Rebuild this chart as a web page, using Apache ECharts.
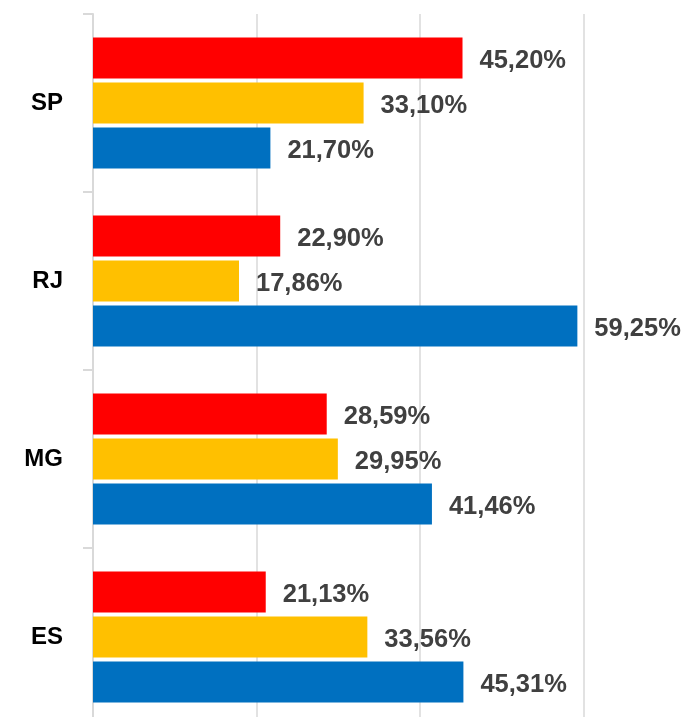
<!DOCTYPE html>
<html>
<head>
<meta charset="utf-8">
<script src="https://cdn.jsdelivr.net/npm/echarts@6/dist/echarts.min.js"></script>
<style>
html,body{margin:0;padding:0;background:#fff;}
#c{width:687px;height:717px;}
</style>
</head>
<body>
<div id="c"></div>
<script>
const categories = ['SP', 'RJ', 'MG', 'ES'];
const redValues = [45.20, 22.90, 28.59, 21.13];
const yellowValues = [33.10, 17.86, 29.95, 33.56];
const blueValues = [21.70, 59.25, 41.46, 45.31];
const xTicks = [0, 20, 40, 60];

const fmt = p => p.value.toFixed(2).replace('.', ',') + '%';
const labelStyle = {
  show: true, position: 'right', distance: 17, offset: [0, 3], formatter: fmt,
  fontFamily: 'Liberation Sans', fontWeight: 'bold', fontSize: 25.5, color: '#404040'
};
function mk(name, data, color) {
  return { name, type: 'bar', data, barWidth: 41, barGap: '10%',
    itemStyle: { color }, label: labelStyle, z: 3 };
}
const chart = echarts.init(document.getElementById('c'));
chart.setOption({
  animation: false,
  backgroundColor: '#ffffff',
  grid: { left: 93, width: 490.5, top: 14, height: 712, containLabel: false, outerBoundsMode: 'none' },
  xAxis: {
    type: 'value', min: xTicks[0], max: xTicks[xTicks.length - 1], interval: xTicks[1] - xTicks[0],
    axisLabel: { show: false }, axisLine: { show: false }, axisTick: { show: false },
    splitLine: { show: true, lineStyle: { color: '#d9d9d9', width: 1.5 } }
  },
  yAxis: {
    type: 'category', data: categories, inverse: true,
    axisLine: { show: true, lineStyle: { color: '#d9d9d9', width: 2 } },
    axisTick: { show: true, length: 10, lineStyle: { color: '#d9d9d9', width: 2 } },
    axisLabel: { margin: 30, offset: [0, 2], fontFamily: 'Liberation Sans', fontWeight: 'bold', fontSize: 24, color: '#000000' }
  },
  series: [
    mk('Vermelho', redValues, '#FF0000'),
    mk('Amarelo', yellowValues, '#FFC000'),
    mk('Azul', blueValues, '#0070C0')
  ]
});
</script>
</body>
</html>
